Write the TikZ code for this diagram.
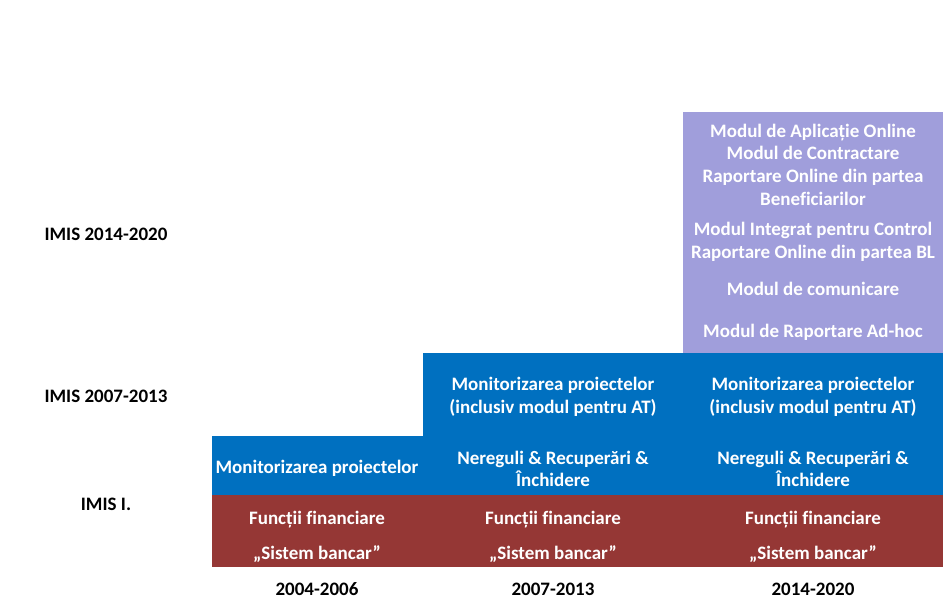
\documentclass[tikz,border=0pt]{standalone}
\usepackage{fontspec}
\setmainfont{Carlito}[Ligatures=NoCommon]
\usetikzlibrary{positioning}
\definecolor{imisblue}{HTML}{0070C0}
\definecolor{imisred}{HTML}{953735}
\definecolor{imispurple}{HTML}{A09EDB}
\tikzset{
    blockr/.style = {rectangle, fill=imisred, inner sep=0pt, anchor=north west},
    blockb/.style = {rectangle, fill=imisblue, inner sep=0pt, anchor=north west},
    blockp/.style = {rectangle, fill=imispurple, inner sep=0pt, anchor=north west},
    modtext/.style = {align=center, inner sep=0pt, yshift=-1.5pt, text=white, font=\bfseries\fontsize{19}{22.7}\selectfont},
    sidetext/.style = {align=center, inner sep=0pt, yshift=-1.5pt, text=black, font=\bfseries\fontsize{19}{22.7}\selectfont},
    yeartext/.style = {align=center, inner sep=0pt, yshift=-1.5pt, text=black, font=\bfseries\fontsize{19}{22.7}\selectfont}
}
\begin{document}
\begin{tikzpicture}[x=1pt, y=-1pt]
\useasboundingbox (0,0) rectangle (943,615);
% blocks
\node[blockr, minimum width=731pt, minimum height=72pt] at (212,495) (fin) {};
\node[blockb, minimum width=211pt, minimum height=59pt] at (212,436) (mon1) {};
\node[blockb, minimum width=520pt, minimum height=142pt] at (423,353) (mon2) {};
\node[blockp, minimum width=260pt, minimum height=241pt] at (683,112) (mod3) {};

% side labels
\node[sidetext] at (106,233) (imis3) {IMIS 2014-2020};
\node[sidetext] at (106,395) (imis2) {IMIS 2007-2013};
\node[sidetext] at (106,503) (imis1) {IMIS I.};

% 2004-2006
\node[modtext] at (317,467) (monA) {Monitorizarea proiectelor};
\node[modtext] at (317,518) (finA) {Funcții financiare};
\node[modtext] at (317,553) (bankA) {„Sistem bancar”};

% 2007-2013
\node[modtext] at (553,395.5) (monB) {Monitorizarea proiectelor\\(inclusiv modul pentru AT)};
\node[modtext] at (553,467.5) (nerB) {Nereguli \& Recuperări \&\\Închidere};
\node[modtext] at (553,518) (finB) {Funcții financiare};
\node[modtext] at (553,553) (bankB) {„Sistem bancar”};

% 2014-2020
\node[modtext] at (813,163) (appC) {Modul de Aplicație Online\\Modul de Contractare\\Raportare Online din partea\\Beneficiarilor};
\node[modtext] at (813,240) (ctrlC) {Modul Integrat pentru Control\\Raportare Online din partea BL};
\node[modtext] at (813,287) (comC) {Modul de comunicare};
\node[modtext] at (813,331) (adhC) {Modul de Raportare Ad-hoc};
\node[modtext] at (813,395.5) (monC) {Monitorizarea proiectelor\\(inclusiv modul pentru AT)};
\node[modtext] at (813,467.5) (nerC) {Nereguli \& Recuperări \&\\Închidere};
\node[modtext] at (813,518) (finC) {Funcții financiare};
\node[modtext] at (813,553) (bankC) {„Sistem bancar”};

% years
\node[yeartext] at (317,588) (yrA) {2004-2006};
\node[yeartext] at (553,588) (yrB) {2007-2013};
\node[yeartext] at (813,588) (yrC) {2014-2020};
\end{tikzpicture}
\end{document}
